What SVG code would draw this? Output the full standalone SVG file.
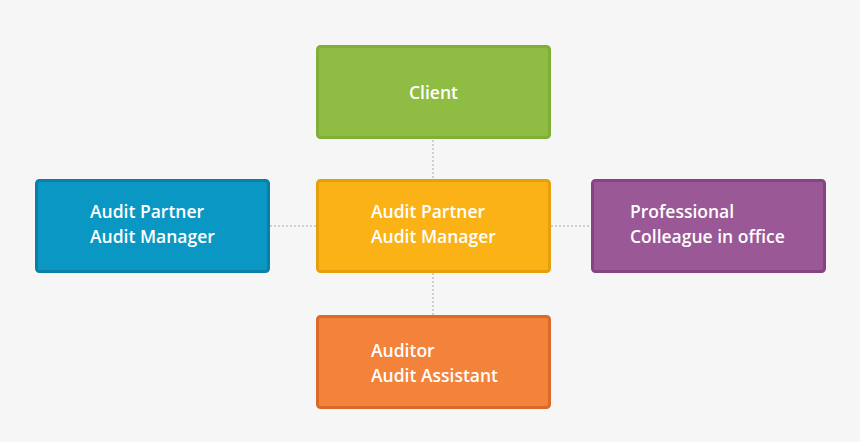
<svg xmlns="http://www.w3.org/2000/svg" width="860" height="442" viewBox="0 0 860 442">
<style>
.box{stroke-width:3}
.t{font-family:"Open Sans","Noto Sans",sans-serif;font-size:17.5px;font-weight:600;fill:#ffffff}
.c{stroke:#cfcfcf;stroke-width:2;stroke-dasharray:2 2;fill:none}
</style>
<rect width="860" height="442" fill="#f6f6f6"/>
<g id="connectors">
<line class="c" x1="433" y1="140" x2="433" y2="179"/>
<line class="c" x1="433" y1="273" x2="433" y2="315"/>
<line class="c" x1="270" y1="226" x2="316" y2="226"/>
<line class="c" x1="551" y1="226" x2="591" y2="226"/>
</g>
<g id="client">
<rect class="box" x="317.5" y="46.5" width="232" height="91" rx="3" fill="#8fbc43" stroke="#80ae37"/>
<text class="t" x="433.5" y="99" text-anchor="middle">Client</text>
</g>
<g id="left">
<rect class="box" x="36.5" y="180.5" width="232" height="91" rx="3" fill="#0a97c3" stroke="#0a80a6"/>
<text class="t" x="90" y="218">Audit Partner</text>
<text class="t" x="90" y="243">Audit Manager</text>
</g>
<g id="center">
<rect class="box" x="317.5" y="180.5" width="232" height="91" rx="3" fill="#fbb216" stroke="#e6a00d"/>
<text class="t" x="371" y="218">Audit Partner</text>
<text class="t" x="371" y="243">Audit Manager</text>
</g>
<g id="right">
<rect class="box" x="592.5" y="180.5" width="232" height="91" rx="3" fill="#9a5896" stroke="#85457f"/>
<text class="t" x="630" y="218">Professional</text>
<text class="t" x="630" y="243">Colleague in office</text>
</g>
<g id="bottom">
<rect class="box" x="317.5" y="316.5" width="232" height="91" rx="3" fill="#f3823a" stroke="#d96a2a"/>
<text class="t" x="371" y="357">Auditor</text>
<text class="t" x="371" y="382">Audit Assistant</text>
</g>
</svg>
